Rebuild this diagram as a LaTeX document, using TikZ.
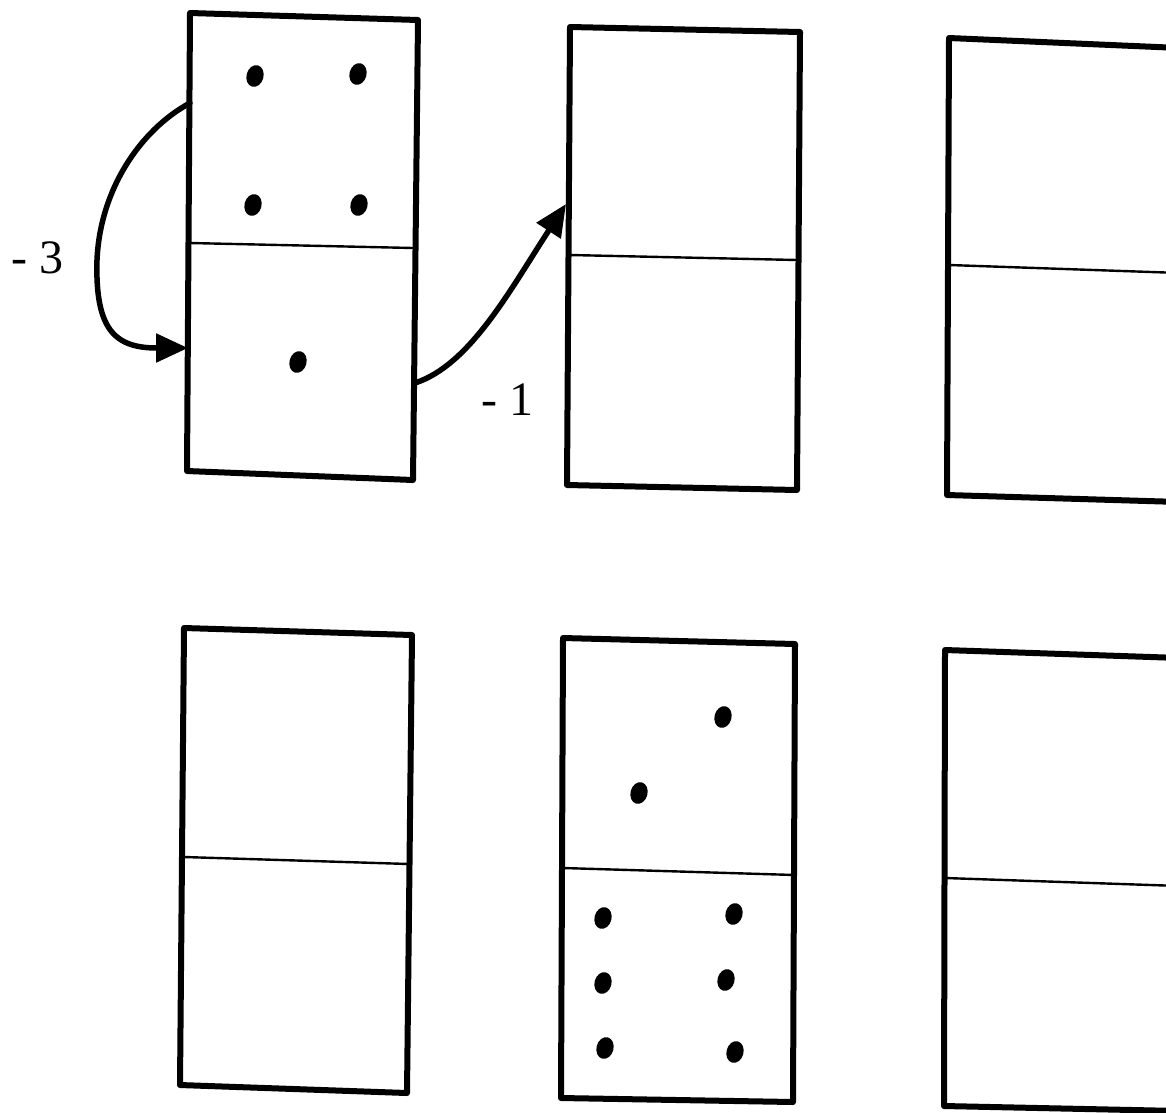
\documentclass[tikz,border=0pt]{standalone}
\usepackage{fontspec}
\setmainfont{Liberation Serif}
\usetikzlibrary{arrows.meta,shapes.geometric}
\begin{document}
\begin{tikzpicture}[x=1pt,y=-1pt,
  edge/.style={line width=6pt, line join=round, line cap=round},
  half/.style={line width=2.4pt},
  pip/.style={ellipse, fill=black, inner sep=0pt, minimum width=17pt, minimum height=22pt, rotate=-15},
  move/.style={line width=5.5pt, line cap=round, -{Triangle[length=32pt,width=28pt]}},
  lbl/.style={font=\fontsize{48}{50}\selectfont, inner sep=0pt, anchor=base west}]
\fill[white] (0,0) rectangle (1166,1112);
\useasboundingbox (0,0) rectangle (1166,1112);

% domino 1 (4 | 1)
\draw[edge] (190,13) -- (418,20) -- (413,480) -- (187,471) -- cycle;
\draw[half] (190,243) -- (413,248);
\node[pip] (a1) at (255,76) {};
\node[pip] (a2) at (358,74) {};
\node[pip] (a3) at (253,205) {};
\node[pip] (a4) at (359,205) {};
\node[pip] (a5) at (298,362) {};

% domino 2
\draw[edge] (570,27) -- (800,32) -- (797,490) -- (567,485) -- cycle;
\draw[half] (570,255) -- (797,260);

% domino 3 (cut at right border)
\draw[edge] (949,38) -- (1180,48) -- (1180,502) -- (947,495) -- cycle;
\draw[half] (949,265) -- (1180,273);

% domino 4
\draw[edge] (184,628) -- (412,635) -- (407,1093) -- (180,1085) -- cycle;
\draw[half] (184,857) -- (409,864);

% domino 5 (2 | 6)
\draw[edge] (563,638) -- (795,644) -- (793,1102) -- (561,1098) -- cycle;
\draw[half] (563,868) -- (795,875);
\node[pip] (b1) at (723,717) {};
\node[pip] (b2) at (639,793) {};
\node[pip] (b3) at (603,918) {};
\node[pip] (b4) at (734,914) {};
\node[pip] (b5) at (603,983) {};
\node[pip] (b6) at (726,980) {};
\node[pip] (b7) at (605,1048) {};
\node[pip] (b8) at (735,1052) {};

% domino 6 (cut at right border)
\draw[edge] (945,650) -- (1180,658) -- (1180,1111) -- (944,1106) -- cycle;
\draw[half] (945,878) -- (1180,886);

% connectors
\coordinate (s1) at (190,103);
\coordinate (m1) at (97,260);
\coordinate (e1) at (188,348);
\coordinate (s2) at (415,383);
\coordinate (e2) at (566,204);
\draw[move] (s1) .. controls (140,130) and (100,190) .. (m1)
            .. controls (95,330) and (115,348) .. (e1);
\draw[move] (s2) .. controls (470,365) and (510,290) .. (e2);

\node[lbl] (l1) at (11,273) {- 3};
\node[lbl] (l2) at (481,415) {- 1};
\end{tikzpicture}
\end{document}
